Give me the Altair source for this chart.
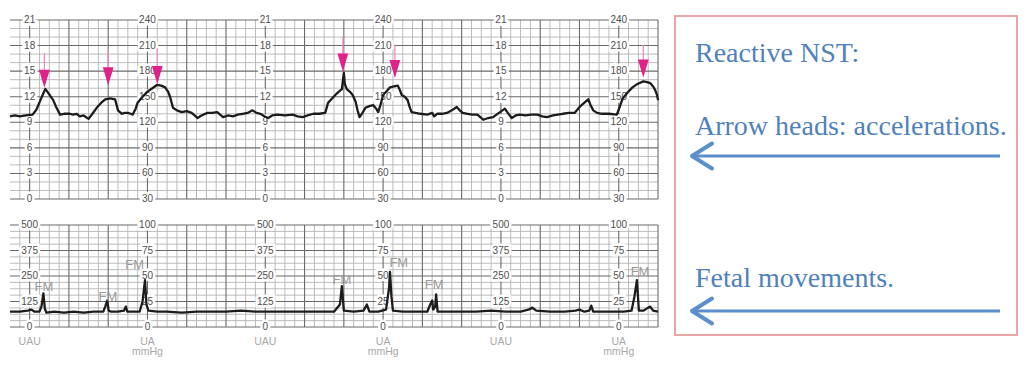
import altair as alt
import numpy as np
import pandas as pd

# ---------------- data ----------------
fhr_time = [0, 5, 10, 16, 23, 27, 31, 34, 36, 38, 41, 44, 47, 51, 55, 61, 64, 68, 71, 75,
            80, 84, 89, 93, 97, 102, 107, 110, 114, 117, 120, 123, 125, 128, 130, 135, 140,
            145, 150, 154, 158, 161, 163, 166, 170, 175, 180, 185, 188, 191, 195, 201, 206,
            211, 214, 217, 222, 227, 232, 237, 242, 247, 251, 255, 259, 263, 267, 272, 280,
            288, 293, 298, 303, 309, 315, 321, 324, 328, 333, 336, 338, 340, 341, 343, 346,
            349, 352, 354, 356, 359, 362, 366, 370, 373, 375, 378, 380, 384, 387, 391, 395,
            397, 399, 402, 405, 407, 409, 413, 418, 425, 430, 432, 435, 440, 445, 450, 455,
            458, 461, 466, 471, 476, 479, 482, 487, 492, 498, 504, 507, 511, 515, 519, 525,
            531, 537, 542, 547, 553, 558, 563, 569, 575, 578, 581, 585, 589, 591, 594, 598,
            603, 610, 618, 621, 624, 629, 634, 639, 645, 649, 652, 655, 657, 659, 660]
fhr_bpm = [127, 128, 127, 128, 129, 135, 146, 154, 159, 156, 151, 146, 138, 129, 130, 130, 129, 130, 127, 128,
           124, 130, 138, 143, 147, 148, 147, 134, 130, 131, 131, 130, 129, 136, 143, 150, 156,
           160, 164, 163, 161, 156, 150, 137, 134, 132, 133, 131, 128, 125, 128, 131, 131,
           132, 129, 126, 128, 127, 129, 130, 131, 134, 131, 130, 127, 125, 128, 129, 128,
           129, 127, 126, 128, 130, 130, 131, 143, 148, 154, 157, 159, 178, 165, 159, 156,
           152, 144, 134, 126, 131, 137, 139, 140, 136, 132, 143, 152, 157, 161, 162, 163,
           158, 152, 150, 146, 138, 132, 131, 130, 129, 131, 127, 130, 130, 131, 134, 138,
           134, 131, 130, 129, 129, 126, 123, 125, 126, 131, 136, 131, 125, 128, 129, 128,
           129, 129, 127, 126, 128, 129, 130, 131, 131, 135, 139, 143, 147, 141, 134, 131,
           130, 130, 129, 138, 148, 155, 161, 165, 168, 167, 166, 162, 158, 152, 146]

ua_time = [0, 10, 18, 22, 25, 30, 32, 34, 35.5, 37, 45, 55, 65, 75, 85, 95, 97, 99, 100.5, 103,
           110, 116, 118, 119.5, 125, 132, 135, 137.5, 139, 141, 150, 160, 175, 190, 205, 220,
           235, 250, 265, 280, 300, 315, 330, 336, 338, 340, 350, 360, 363.5, 366, 375, 383,
           386, 387, 388.5, 390, 400, 415, 425, 428, 430, 431, 433, 434, 435.5, 445, 460, 475,
           490, 505, 520, 528, 532, 536, 550, 565, 576, 580, 585, 590, 592, 594, 610, 625,
           633, 636, 638.5, 640.5, 645, 650, 652, 655, 660]
ua_mmhg = [15, 15, 16, 17, 15, 15, 20, 33, 18, 14, 15, 14, 15, 14, 15, 15, 20, 26, 16, 15,
           15, 16, 20, 15, 15, 15, 25, 46, 22, 16, 15, 15, 14, 15, 15, 15,
           16, 15, 15, 15, 15, 15, 15, 22, 40, 16, 15, 16, 22, 15, 15, 17,
           38, 54, 30, 16, 15, 15, 15, 22, 26, 17, 20, 32, 15, 15, 15, 15,
           16, 15, 15, 17, 19, 16, 15, 15, 16, 17, 15, 16, 21, 15, 15, 15,
           16, 30, 46, 16, 16, 19, 20, 16, 15]

accel_time = [35, 100, 150, 339, 392, 645]
accel_head_bpm = [171, 174, 175.5, 190, 182.5, 183]
accel_tail_bpm = [201, 205, 207, 220, 211, 211]

fm_time = [34.6, 99.8, 127, 338, 396, 432, 641.7]
fm_mmhg = [39, 29.5, 61, 46, 63, 41, 54]

label_cols = [20, 140, 260, 380, 500, 620]
fhr_ticks = [240, 210, 180, 150, 120, 90, 60, 30]
kpa_ticks = ["21", "18", "15", "12", "9", "6", "3", "0"]
ua_ticks = [100, 75, 50, 25, 0]
uau_ticks = ["500", "375", "250", "125", "0"]
unit_uau = "UAU"
unit_ua = ["UA", "mmHg"]
notes = ["Reactive NST:", "Arrow heads: accelerations.", "Fetal movements."]

# ---------------- layout / style ----------------
LEFT_W, TOP_H, BOT_H = 657, 204, 145
NOTE_W, NOTE_H = 354, 349
xs = alt.Scale(domain=[-2.037, 667.1], nice=False, zero=False)
ys_fhr = alt.Scale(domain=[14.75, 254.08], nice=False, zero=False)
ys_ua = alt.Scale(domain=[-29.41, 112.75], nice=False, zero=False)
MINOR, MAJOR = "#b4b4b4", "#6a6a6a"
LABEL_FONT = "Liberation Sans"
one = pd.DataFrame({"k": [0]})

vt = np.arange(10, 661, 10)
vgrid = pd.DataFrame({"t": vt, "major": (vt - 20) % 40 == 0})


def background(w, h):
    # white backdrop covering the whole view, so each panel's bounds equal its size
    return alt.Chart(one).mark_rect(color="white").encode(
        x=alt.value(0), x2=alt.value(w), y=alt.value(0), y2=alt.value(h))


def panel(ys, lo, hi, hvals, hmajor, labels_df, trace_df, yfield, h):
    vg = vgrid.assign(lo=lo, hi=hi)
    hg = pd.DataFrame({"v": hvals, "major": hmajor, "x0": 0, "x1": 660})
    layers = [background(LEFT_W, h)]
    for is_major, col, sw in [(False, MINOR, 0.9), (True, MAJOR, 1.1)]:
        layers.append(alt.Chart(vg[vg.major == is_major]).mark_rule(color=col, strokeWidth=sw).encode(
            x=alt.X("t:Q", scale=xs, axis=None),
            y=alt.Y("lo:Q", scale=ys, axis=None), y2="hi:Q"))
        layers.append(alt.Chart(hg[hg.major == is_major]).mark_rule(color=col, strokeWidth=sw).encode(
            x=alt.X("x0:Q", scale=xs, axis=None), x2="x1:Q",
            y=alt.Y("v:Q", scale=ys, axis=None)))
    enc = dict(x=alt.X("t:Q", scale=xs, axis=None),
               y=alt.Y("v:Q", scale=ys, axis=None), text="text:N")
    layers.append(alt.Chart(labels_df).mark_text(font=LABEL_FONT, fontSize=10, color="white",
                                                 stroke="white", strokeWidth=5).encode(**enc))
    layers.append(alt.Chart(labels_df).mark_text(font=LABEL_FONT, fontSize=10, color="#505050").encode(**enc))
    layers.append(alt.Chart(trace_df).mark_line(color="#1c1c1c", strokeWidth=2.3, strokeJoin="round").encode(
        x=alt.X("t:Q", scale=xs, axis=None),
        y=alt.Y(f"{yfield}:Q", scale=ys, axis=None)))
    return layers


# top panel
top_labels = pd.DataFrame([
    {"t": c, "v": b, "text": (kpa_ticks[j] if i % 2 == 0 else str(b))}
    for i, c in enumerate(label_cols) for j, b in enumerate(fhr_ticks)])
fhr_df = pd.DataFrame({"t": fhr_time, "bpm": fhr_bpm})
hv = np.arange(30, 241, 10)
top_layers = panel(ys_fhr, 30, 240, hv, hv % 30 == 0, top_labels, fhr_df, "bpm", TOP_H)

acc_df = pd.DataFrame({"t": accel_time, "head": accel_head_bpm, "tail": accel_tail_bpm})
top_layers.append(alt.Chart(acc_df).mark_rule(color="#f08cc0", strokeWidth=1.3).encode(
    x=alt.X("t:Q", scale=xs, axis=None),
    y=alt.Y("tail:Q", scale=ys_fhr, axis=None), y2="head:Q"))
top_layers.append(alt.Chart(acc_df).mark_point(shape="M-0.6,-1L0.6,-1L0,1Z", size=324, filled=True,
                                               color="#e0218a", opacity=1).encode(
    x=alt.X("t:Q", scale=xs, axis=None),
    y=alt.Y("head:Q", scale=ys_fhr, axis=None)))
top = alt.layer(*top_layers).properties(width=LEFT_W, height=TOP_H)

# bottom panel
bot_labels = pd.DataFrame([
    {"t": c, "v": m, "text": (uau_ticks[j] if i % 2 == 0 else str(m))}
    for i, c in enumerate(label_cols) for j, m in enumerate(ua_ticks)])
ua_df = pd.DataFrame({"t": ua_time, "mmhg": ua_mmhg})
hv2 = np.arange(0, 100.01, 6.25)
bot_layers = panel(ys_ua, 0, 100, hv2, (hv2 % 25) == 0, bot_labels, ua_df, "mmhg", BOT_H)

fm_df = pd.DataFrame({"t": fm_time, "v": fm_mmhg, "text": "FM"})
bot_layers.append(alt.Chart(fm_df).mark_text(font=LABEL_FONT, fontSize=13, color="#9a9a9a").encode(
    x=alt.X("t:Q", scale=xs, axis=None), y=alt.Y("v:Q", scale=ys_ua, axis=None), text="text:N"))
unit_df = pd.DataFrame(
    [{"t": c, "v": -14.7, "text": (unit_uau if i % 2 == 0 else unit_ua[0])} for i, c in enumerate(label_cols)]
    + [{"t": c, "v": -24.8, "text": unit_ua[1]} for i, c in enumerate(label_cols) if i % 2 == 1])
bot_layers.append(alt.Chart(unit_df).mark_text(font=LABEL_FONT, fontSize=10.5, color="#a8a8a8").encode(
    x=alt.X("t:Q", scale=xs, axis=None), y=alt.Y("v:Q", scale=ys_ua, axis=None), text="text:N"))
bottom = alt.layer(*bot_layers).properties(width=LEFT_W, height=BOT_H)

# annotation panel
BLUE = "#4F81BD"
note_layers = [background(NOTE_W, NOTE_H),
               alt.Chart(one).mark_rect(fillOpacity=0, stroke="#e9a6a6", strokeWidth=2).encode(
                   x=alt.value(10), x2=alt.value(352), y=alt.value(8), y2=alt.value(327))]
for txt, yb in zip(notes, [54, 127, 279]):
    note_layers.append(alt.Chart(pd.DataFrame({"text": [txt]})).mark_text(
        font="Liberation Serif", fontSize=28, color=BLUE, align="left", baseline="alphabetic").encode(
        x=alt.value(30), y=alt.value(yb), text="text:N"))
for ya in [148, 303]:
    note_layers.append(alt.Chart(one).mark_rule(color="#5b8fcc", strokeWidth=3).encode(
        x=alt.value(29), x2=alt.value(335), y=alt.value(ya)))
    note_layers.append(alt.Chart(one).mark_point(shape="M1.6,-1L0,0L1.6,1", size=625, filled=False,
                                                 color="#5b8fcc", strokeWidth=4, opacity=1,
                                                 strokeCap="round", strokeJoin="round").encode(
        x=alt.value(27), y=alt.value(ya)))
note = alt.layer(*note_layers).properties(width=NOTE_W, height=NOTE_H)

chart = alt.hconcat(alt.vconcat(top, bottom, spacing=0), note, spacing=0).properties(
    padding=0, background="white").configure_view(strokeWidth=0)

chart.save("out.html", embed_options={"renderer": "svg", "actions": False})
